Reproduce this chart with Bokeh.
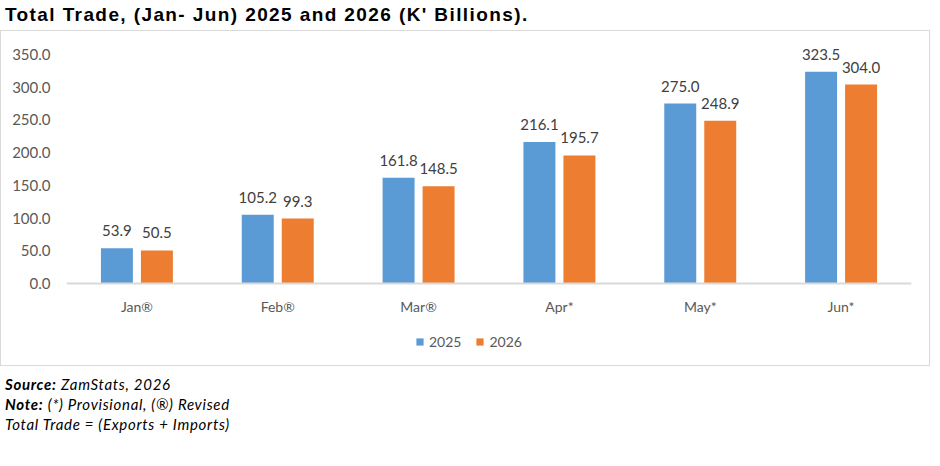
from bokeh.plotting import figure
from bokeh.models import (FactorRange, Range1d, FixedTicker, NumeralTickFormatter,
                          Legend, LegendItem, Div, ColumnDataSource)
from bokeh.transform import dodge
from bokeh.layouts import column
from bokeh.core.properties import value
from bokeh.embed import file_html
from bokeh.resources import INLINE

months = ["Jan®", "Feb®", "Mar®", "Apr*", "May*", "Jun*"]
trade_2025 = [53.9, 105.2, 161.8, 216.1, 275.0, 323.5]
trade_2026 = [50.5, 99.3, 148.5, 195.7, 248.9, 304.0]
years = ["2025", "2026"]
y_ticks = [0, 50, 100, 150, 200, 250, 300, 350]

title_text = "Total Trade, (Jan- Jun) 2025 and 2026 (K' Billions)."
source_note = "ZamStats, 2026"
note_text = "(*) Provisional, (®) Revised"
def_text = "Total Trade = (Exports + Imports)"

BLUE = "#5B9BD5"
ORANGE = "#ED7D31"
FONT = "Lato"

src = ColumnDataSource(dict(
    month=months,
    y25=trade_2025,
    y26=trade_2026,
    l25=[f"{v:.1f}" for v in trade_2025],
    l26=[f"{v:.1f}" for v in trade_2026],
))

p = figure(x_range=FactorRange(*months), y_range=Range1d(-120.7, 371.4),
           width=930, height=336, output_backend="svg", toolbar_location=None,
           min_border_left=65, min_border_right=20, min_border_top=9,
           min_border_bottom=5, background_fill_color="white",
           border_fill_color="white",
           styles={"border": "1px solid #d9d9d9"})
p.outline_line_color = None
p.grid.grid_line_color = None

off = 0.142
bw = 0.227
r25 = p.vbar(x=dodge("month", -off, range=p.x_range), top="y25", width=bw,
             source=src, fill_color=BLUE, line_color=None)
r26 = p.vbar(x=dodge("month", off, range=p.x_range), top="y26", width=bw,
             source=src, fill_color=ORANGE, line_color=None)

for fld, lab, o in (("y25", "l25", -off), ("y26", "l26", off)):
    p.text(x=dodge("month", o, range=p.x_range), y=fld, text=lab, source=src,
           text_align="center", text_baseline="bottom", y_offset=-12,
           text_font=value(FONT), text_font_size="15px", text_color="#404040")

p.yaxis.ticker = FixedTicker(ticks=y_ticks)
p.yaxis.formatter = NumeralTickFormatter(format="0.0")
p.yaxis.axis_line_color = None
p.yaxis.major_tick_line_color = None
p.yaxis.minor_tick_line_color = None
p.yaxis.major_label_text_font = FONT
p.yaxis.major_label_text_font_size = "15px"
p.yaxis.major_label_text_color = "#595959"
p.yaxis.major_label_standoff = 10

p.xaxis.fixed_location = 0
p.xaxis.axis_line_color = "#d9d9d9"
p.xaxis.axis_line_width = 2
p.xaxis.major_tick_line_color = None
p.xaxis.minor_tick_line_color = None
p.xaxis.major_label_text_font = FONT
p.xaxis.major_label_text_font_size = "14px"
p.xaxis.major_label_text_color = "#595959"
p.xaxis.major_label_standoff = 8

legend = Legend(items=[LegendItem(label=years[0], renderers=[r25]),
                       LegendItem(label=years[1], renderers=[r26])],
                orientation="horizontal", location=(349, 12),
                border_line_color=None, background_fill_alpha=0,
                label_text_font=FONT, label_text_font_size="14px",
                label_text_color="#595959", glyph_width=9, glyph_height=9,
                spacing=14, label_standoff=5, margin=0, padding=4)
p.add_layout(legend)

title_div = Div(text=title_text, width=930, height=20,
                styles={"font-family": "Liberation Sans", "font-weight": "bold",
                        "font-size": "19px", "color": "#000000",
                        "letter-spacing": "1.4px",
                        "line-height": "20px", "white-space": "nowrap"})

notes_div = Div(text=(f"<b><i>Source:</i></b> <i>{source_note}</i><br>"
                      f"<b><i>Note:</i></b> <i>{note_text}</i><br>"
                      f"<i>{def_text}</i>"),
                width=930, height=66,
                styles={"font-family": FONT, "font-size": "15px",
                        "letter-spacing": "0.7px",
                        "color": "#000000", "line-height": "20px",
                        "margin-top": "8px"})

layout = column(title_div, p, notes_div, spacing=0)

open("out.html", "w").write(file_html(layout, INLINE))
